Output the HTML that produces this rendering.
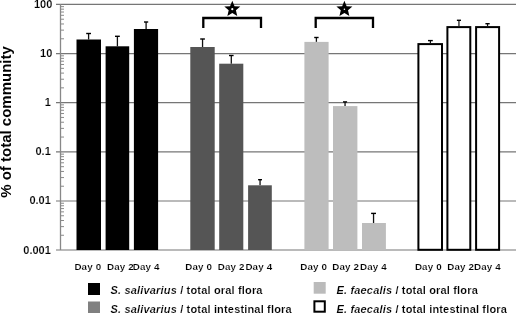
<!DOCTYPE html>
<html><head><meta charset="utf-8"><style>
html,body{margin:0;padding:0;background:#fff;width:516px;height:314px;overflow:hidden}
svg{display:block;will-change:transform}
.t{stroke:#fff;stroke-width:0.15px}
</style></head><body>
<svg width="516" height="314" viewBox="0 0 516 314">
<line x1="56" y1="4.4" x2="516" y2="4.4" stroke="#767676" stroke-width="1.15"/>
<line x1="56" y1="53.6" x2="516" y2="53.6" stroke="#767676" stroke-width="1.15"/>
<line x1="56" y1="102.6" x2="516" y2="102.6" stroke="#767676" stroke-width="1.15"/>
<line x1="56" y1="151.9" x2="516" y2="151.9" stroke="#767676" stroke-width="1.15"/>
<line x1="56" y1="201.0" x2="516" y2="201.0" stroke="#767676" stroke-width="1.15"/>
<line x1="56" y1="250.0" x2="516" y2="250.0" stroke="#767676" stroke-width="1.15"/>
<line x1="60.5" y1="38.79" x2="64" y2="38.79" stroke="#8a8a8a" stroke-width="1"/>
<line x1="60.5" y1="30.13" x2="64" y2="30.13" stroke="#8a8a8a" stroke-width="1"/>
<line x1="60.5" y1="23.98" x2="64" y2="23.98" stroke="#8a8a8a" stroke-width="1"/>
<line x1="60.5" y1="19.21" x2="64" y2="19.21" stroke="#8a8a8a" stroke-width="1"/>
<line x1="60.5" y1="15.31" x2="64" y2="15.31" stroke="#8a8a8a" stroke-width="1"/>
<line x1="60.5" y1="12.02" x2="64" y2="12.02" stroke="#8a8a8a" stroke-width="1"/>
<line x1="60.5" y1="9.17" x2="64" y2="9.17" stroke="#8a8a8a" stroke-width="1"/>
<line x1="60.5" y1="6.65" x2="64" y2="6.65" stroke="#8a8a8a" stroke-width="1"/>
<line x1="60.5" y1="87.85" x2="64" y2="87.85" stroke="#8a8a8a" stroke-width="1"/>
<line x1="60.5" y1="79.22" x2="64" y2="79.22" stroke="#8a8a8a" stroke-width="1"/>
<line x1="60.5" y1="73.10" x2="64" y2="73.10" stroke="#8a8a8a" stroke-width="1"/>
<line x1="60.5" y1="68.35" x2="64" y2="68.35" stroke="#8a8a8a" stroke-width="1"/>
<line x1="60.5" y1="64.47" x2="64" y2="64.47" stroke="#8a8a8a" stroke-width="1"/>
<line x1="60.5" y1="61.19" x2="64" y2="61.19" stroke="#8a8a8a" stroke-width="1"/>
<line x1="60.5" y1="58.35" x2="64" y2="58.35" stroke="#8a8a8a" stroke-width="1"/>
<line x1="60.5" y1="55.84" x2="64" y2="55.84" stroke="#8a8a8a" stroke-width="1"/>
<line x1="60.5" y1="137.06" x2="64" y2="137.06" stroke="#8a8a8a" stroke-width="1"/>
<line x1="60.5" y1="128.38" x2="64" y2="128.38" stroke="#8a8a8a" stroke-width="1"/>
<line x1="60.5" y1="122.22" x2="64" y2="122.22" stroke="#8a8a8a" stroke-width="1"/>
<line x1="60.5" y1="117.44" x2="64" y2="117.44" stroke="#8a8a8a" stroke-width="1"/>
<line x1="60.5" y1="113.54" x2="64" y2="113.54" stroke="#8a8a8a" stroke-width="1"/>
<line x1="60.5" y1="110.24" x2="64" y2="110.24" stroke="#8a8a8a" stroke-width="1"/>
<line x1="60.5" y1="107.38" x2="64" y2="107.38" stroke="#8a8a8a" stroke-width="1"/>
<line x1="60.5" y1="104.86" x2="64" y2="104.86" stroke="#8a8a8a" stroke-width="1"/>
<line x1="60.5" y1="186.22" x2="64" y2="186.22" stroke="#8a8a8a" stroke-width="1"/>
<line x1="60.5" y1="177.57" x2="64" y2="177.57" stroke="#8a8a8a" stroke-width="1"/>
<line x1="60.5" y1="171.44" x2="64" y2="171.44" stroke="#8a8a8a" stroke-width="1"/>
<line x1="60.5" y1="166.68" x2="64" y2="166.68" stroke="#8a8a8a" stroke-width="1"/>
<line x1="60.5" y1="162.79" x2="64" y2="162.79" stroke="#8a8a8a" stroke-width="1"/>
<line x1="60.5" y1="159.51" x2="64" y2="159.51" stroke="#8a8a8a" stroke-width="1"/>
<line x1="60.5" y1="156.66" x2="64" y2="156.66" stroke="#8a8a8a" stroke-width="1"/>
<line x1="60.5" y1="154.15" x2="64" y2="154.15" stroke="#8a8a8a" stroke-width="1"/>
<line x1="60.5" y1="235.25" x2="64" y2="235.25" stroke="#8a8a8a" stroke-width="1"/>
<line x1="60.5" y1="226.62" x2="64" y2="226.62" stroke="#8a8a8a" stroke-width="1"/>
<line x1="60.5" y1="220.50" x2="64" y2="220.50" stroke="#8a8a8a" stroke-width="1"/>
<line x1="60.5" y1="215.75" x2="64" y2="215.75" stroke="#8a8a8a" stroke-width="1"/>
<line x1="60.5" y1="211.87" x2="64" y2="211.87" stroke="#8a8a8a" stroke-width="1"/>
<line x1="60.5" y1="208.59" x2="64" y2="208.59" stroke="#8a8a8a" stroke-width="1"/>
<line x1="60.5" y1="205.75" x2="64" y2="205.75" stroke="#8a8a8a" stroke-width="1"/>
<line x1="60.5" y1="203.24" x2="64" y2="203.24" stroke="#8a8a8a" stroke-width="1"/>
<line x1="60.5" y1="4" x2="60.5" y2="250" stroke="#888" stroke-width="1.3"/>
<line x1="88.60" y1="33.5" x2="88.60" y2="39.5" stroke="#111" stroke-width="1.3"/>
<line x1="86.2" y1="33.5" x2="91.0" y2="33.5" stroke="#000" stroke-width="1.4"/>
<rect x="76.5" y="39.5" width="24.50" height="210.5" fill="#000"/>
<line x1="117.40" y1="36.3" x2="117.40" y2="46.3" stroke="#111" stroke-width="1.3"/>
<line x1="115.0" y1="36.3" x2="119.8" y2="36.3" stroke="#000" stroke-width="1.4"/>
<rect x="105.6" y="46.3" width="23.60" height="203.7" fill="#000"/>
<line x1="146.10" y1="22.0" x2="146.10" y2="29.0" stroke="#111" stroke-width="1.3"/>
<line x1="144.0" y1="22.0" x2="148.2" y2="22.0" stroke="#000" stroke-width="1.4"/>
<rect x="133.9" y="29.0" width="24.20" height="221.0" fill="#000"/>
<line x1="202.55" y1="39.0" x2="202.55" y2="47.0" stroke="#111" stroke-width="1.3"/>
<line x1="200.2" y1="39.0" x2="204.9" y2="39.0" stroke="#000" stroke-width="1.4"/>
<rect x="190.3" y="47.0" width="24.40" height="203.0" fill="#555"/>
<line x1="231.30" y1="55.5" x2="231.30" y2="63.7" stroke="#111" stroke-width="1.3"/>
<line x1="229.0" y1="55.5" x2="233.6" y2="55.5" stroke="#000" stroke-width="1.4"/>
<rect x="219.2" y="63.7" width="24.10" height="186.3" fill="#555"/>
<line x1="260.05" y1="179.7" x2="260.05" y2="185.3" stroke="#111" stroke-width="1.3"/>
<line x1="258.1" y1="179.7" x2="262.0" y2="179.7" stroke="#000" stroke-width="1.4"/>
<rect x="248.1" y="185.3" width="23.70" height="64.69999999999999" fill="#555"/>
<line x1="316.40" y1="37.5" x2="316.40" y2="41.9" stroke="#111" stroke-width="1.3"/>
<line x1="314.2" y1="37.5" x2="318.6" y2="37.5" stroke="#000" stroke-width="1.4"/>
<rect x="304.4" y="41.9" width="24.20" height="208.1" fill="#bdbdbd"/>
<line x1="345.05" y1="101.9" x2="345.05" y2="106.1" stroke="#111" stroke-width="1.3"/>
<line x1="343.0" y1="101.9" x2="347.1" y2="101.9" stroke="#000" stroke-width="1.4"/>
<rect x="333.0" y="106.1" width="24.40" height="143.9" fill="#bdbdbd"/>
<line x1="373.55" y1="213.4" x2="373.55" y2="223.0" stroke="#111" stroke-width="1.3"/>
<line x1="371.1" y1="213.4" x2="376.0" y2="213.4" stroke="#000" stroke-width="1.4"/>
<rect x="362.0" y="223.0" width="23.90" height="27.0" fill="#bdbdbd"/>
<line x1="430.40" y1="40.6" x2="430.40" y2="43.1" stroke="#111" stroke-width="1.2"/>
<line x1="428.0" y1="40.6" x2="432.8" y2="40.6" stroke="#000" stroke-width="1.4"/>
<rect x="418.4" y="44.1" width="23.600000000000023" height="205.70" fill="#fff" stroke="#000" stroke-width="2"/>
<line x1="458.95" y1="20.3" x2="458.95" y2="26.1" stroke="#111" stroke-width="1.2"/>
<line x1="456.9" y1="20.3" x2="461.0" y2="20.3" stroke="#000" stroke-width="1.4"/>
<rect x="447.4" y="27.1" width="22.900000000000034" height="222.70" fill="#fff" stroke="#000" stroke-width="2"/>
<line x1="487.55" y1="23.7" x2="487.55" y2="26.1" stroke="#111" stroke-width="1.2"/>
<line x1="485.4" y1="23.7" x2="489.7" y2="23.7" stroke="#000" stroke-width="1.4"/>
<rect x="476.1" y="27.1" width="23.0" height="222.70" fill="#fff" stroke="#000" stroke-width="2"/>
<path d="M203.3,28 L203.3,18 L261.0,18 L261.0,28" fill="none" stroke="#000" stroke-width="2.3"/>
<path d="M315.7,28 L315.7,18 L373.0,18 L373.0,28" fill="none" stroke="#000" stroke-width="2.3"/>
<path d="M232.30,0.80 L234.53,6.13 L240.29,6.60 L235.91,10.37 L237.24,16.00 L232.30,13.00 L227.36,16.00 L228.69,10.37 L224.31,6.60 L230.07,6.13 Z" fill="#000"/>
<circle cx="232.3" cy="9.2" r="1.1" fill="#fff"/>
<path d="M344.40,0.80 L346.63,6.13 L352.39,6.60 L348.01,10.37 L349.34,16.00 L344.40,13.00 L339.46,16.00 L340.79,10.37 L336.41,6.60 L342.17,6.13 Z" fill="#000"/>
<circle cx="344.4" cy="9.2" r="0.8" fill="#fff"/>
<rect x="88" y="283" width="12" height="12" fill="#000"/>
<rect x="88" y="301.5" width="12" height="11.5" fill="#808080"/>
<rect x="313.7" y="282" width="12" height="11.7" fill="#bbb"/>
<rect x="314.4" y="301.3" width="10.4" height="10.4" fill="#fff" stroke="#000" stroke-width="2"/>
<text x="52.3" y="7.60" text-anchor="end" font-size="11" font-weight="bold" class="t" font-family="Liberation Sans, sans-serif">100</text>
<text x="52.3" y="56.50" text-anchor="end" font-size="11" font-weight="bold" class="t" font-family="Liberation Sans, sans-serif">10</text>
<text x="50.8" y="106.10" text-anchor="end" font-size="11" font-weight="bold" class="t" font-family="Liberation Sans, sans-serif">1</text>
<text x="50.8" y="155.20" text-anchor="end" font-size="11" font-weight="bold" class="t" font-family="Liberation Sans, sans-serif">0.1</text>
<text x="50.8" y="203.90" text-anchor="end" font-size="11" font-weight="bold" class="t" font-family="Liberation Sans, sans-serif">0.01</text>
<text x="50.8" y="253.60" text-anchor="end" font-size="11" font-weight="bold" class="t" font-family="Liberation Sans, sans-serif">0.001</text>
<text transform="translate(10.8,122) rotate(-90)" text-anchor="middle" font-size="15" font-weight="bold" font-family="Liberation Sans, sans-serif">% of total community</text>
<text x="74.40" y="270.1" font-size="9.8" font-weight="bold" letter-spacing="0.15" class="t" font-family="Liberation Sans, sans-serif">Day 0</text>
<text x="107.00" y="270.1" font-size="9.8" font-weight="bold" letter-spacing="0.15" class="t" font-family="Liberation Sans, sans-serif">Day 2</text>
<text x="132.80" y="270.1" font-size="9.8" font-weight="bold" letter-spacing="0.15" class="t" font-family="Liberation Sans, sans-serif">Day 4</text>
<text x="185.30" y="270.1" font-size="9.8" font-weight="bold" letter-spacing="0.15" class="t" font-family="Liberation Sans, sans-serif">Day 0</text>
<text x="217.70" y="270.1" font-size="9.8" font-weight="bold" letter-spacing="0.15" class="t" font-family="Liberation Sans, sans-serif">Day 2</text>
<text x="245.40" y="270.1" font-size="9.8" font-weight="bold" letter-spacing="0.15" class="t" font-family="Liberation Sans, sans-serif">Day 4</text>
<text x="300.30" y="270.1" font-size="9.8" font-weight="bold" letter-spacing="0.15" class="t" font-family="Liberation Sans, sans-serif">Day 0</text>
<text x="332.30" y="270.1" font-size="9.8" font-weight="bold" letter-spacing="0.15" class="t" font-family="Liberation Sans, sans-serif">Day 2</text>
<text x="360.00" y="270.1" font-size="9.8" font-weight="bold" letter-spacing="0.15" class="t" font-family="Liberation Sans, sans-serif">Day 4</text>
<text x="414.90" y="270.1" font-size="9.8" font-weight="bold" letter-spacing="0.15" class="t" font-family="Liberation Sans, sans-serif">Day 0</text>
<text x="447.30" y="270.1" font-size="9.8" font-weight="bold" letter-spacing="0.15" class="t" font-family="Liberation Sans, sans-serif">Day 2</text>
<text x="474.00" y="270.1" font-size="9.8" font-weight="bold" letter-spacing="0.15" class="t" font-family="Liberation Sans, sans-serif">Day 4</text>
<text x="110.5" y="294.1" font-size="11" font-weight="bold" letter-spacing="0.17" class="t" font-family="Liberation Sans, sans-serif"><tspan font-style="italic">S. salivarius</tspan> / total oral flora</text>
<text x="110.5" y="313" font-size="11" font-weight="bold" letter-spacing="0.17" class="t" font-family="Liberation Sans, sans-serif"><tspan font-style="italic">S. salivarius</tspan> / total intestinal flora</text>
<text x="336.5" y="294.3" font-size="11" font-weight="bold" letter-spacing="0.17" class="t" font-family="Liberation Sans, sans-serif"><tspan font-style="italic">E. faecalis</tspan> / total oral flora</text>
<text x="336.5" y="313" font-size="11" font-weight="bold" letter-spacing="0.17" class="t" font-family="Liberation Sans, sans-serif"><tspan font-style="italic">E. faecalis</tspan> / total intestinal flora</text>
</svg>
</body></html>
